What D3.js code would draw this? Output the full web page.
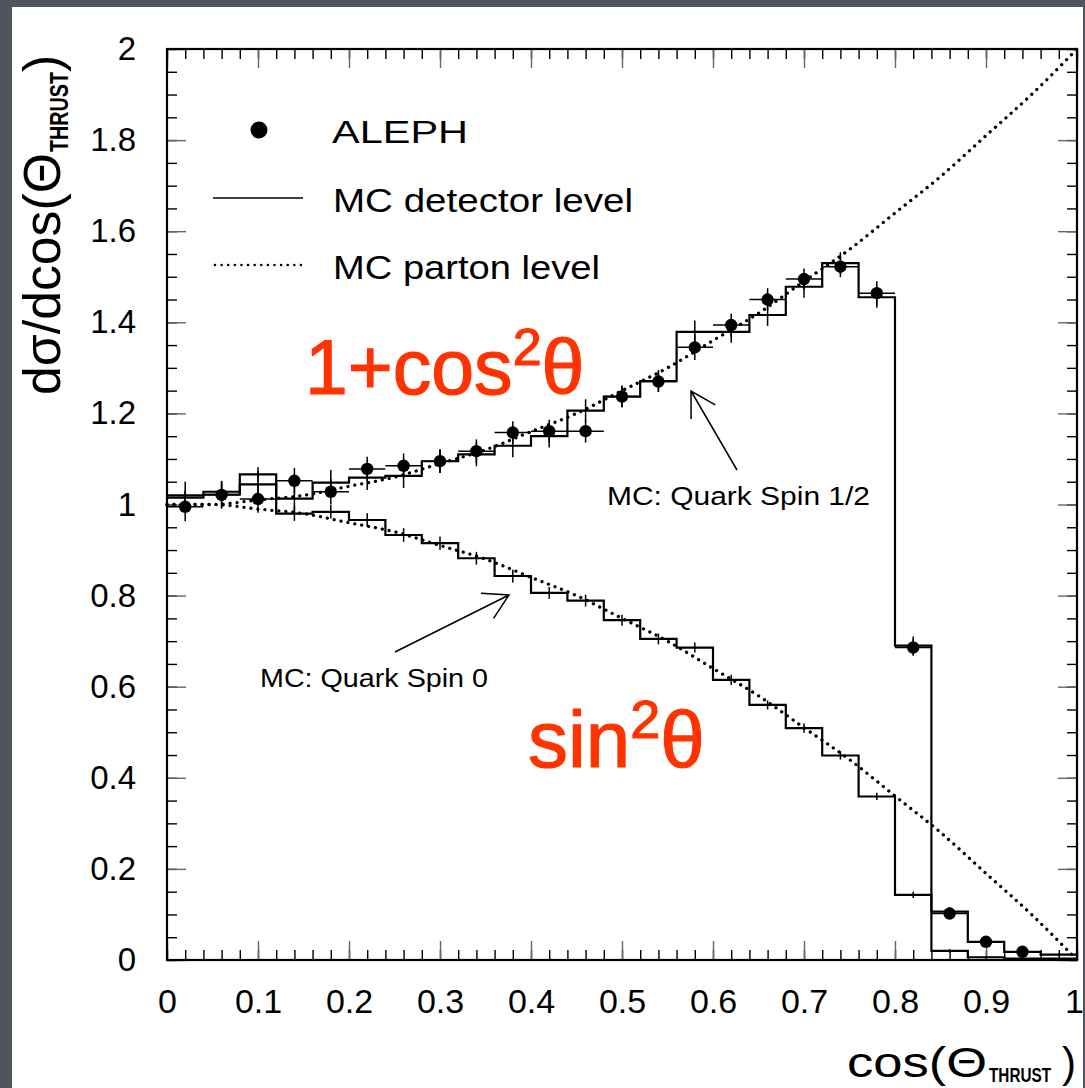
<!DOCTYPE html>
<html>
<head>
<meta charset="utf-8">
<script src="https://cdn.jsdelivr.net/npm/d3@7/dist/d3.min.js"></script>
<style>
    html, body { margin: 0; padding: 0; background: #50545c; }
    svg { display: block; }
</style>
</head>
<body>
<div id="chart"></div>
<script>
// cos(theta_thrust) bins, width 0.04
const binCenters = [0.02, 0.06, 0.10, 0.14, 0.18, 0.22, 0.26, 0.30, 0.34, 0.38, 0.42, 0.46, 0.50,
    0.54, 0.58, 0.62, 0.66, 0.70, 0.74, 0.78, 0.82, 0.86, 0.90, 0.94, 0.98];
const binHalfWidth = 0.02;

// ALEPH data
const alephValues = [0.995, 1.021, 1.012, 1.052, 1.028, 1.078, 1.085, 1.095, 1.117, 1.158, 1.161, 1.161,
    1.237, 1.270, 1.345, 1.394, 1.450, 1.495, 1.522, 1.464, 0.686, 0.102, 0.040, 0.018];
const alephErrors = [0.032, 0.030, 0.030, 0.028, 0.028, 0.027, 0.027, 0.026, 0.026, 0.025, 0.025, 0.025,
    0.023, 0.023, 0.028, 0.025, 0.025, 0.023, 0.023, 0.026, 0.018, 0.008, 0.006, 0.004];

// MC detector level, quark spin 1/2
const mcSpinHalf = [1.020, 1.022, 1.044, 1.013, 1.048, 1.059, 1.063, 1.095, 1.110, 1.129, 1.150, 1.206,
    1.237, 1.271, 1.379, 1.379, 1.416, 1.478, 1.530, 1.455, 0.690, 0.106, 0.040, 0.018, 0.012];
const mcSpinHalfErr = [0.030, 0.030, 0.030, 0.028, 0.028, 0.027, 0.027, 0.026, 0.026, 0.025, 0.025, 0.025,
    0.024, 0.024, 0.025, 0.024, 0.024, 0.024, 0.024, 0.023, 0.020, 0.010, 0.006, 0.004, 0.003];

// MC detector level, quark spin 0
const mcSpinZero = [1.015, 1.028, 1.066, 0.980, 0.984, 0.966, 0.933, 0.915, 0.882, 0.843, 0.806, 0.789,
    0.746, 0.705, 0.686, 0.615, 0.560, 0.509, 0.449, 0.359, 0.143, 0.020, 0.006, 0.003, 0.003];
const mcSpinZeroErr = [0.016, 0.016, 0.016, 0.016, 0.015, 0.015, 0.015, 0.015, 0.014, 0.014, 0.013, 0.013,
    0.012, 0.012, 0.011, 0.011, 0.010, 0.010, 0.009, 0.008, 0.007, 0.004, 0.003, 0.002, 0.002];

// MC parton level (dotted)
const partonX = [0, 0.05, 0.10, 0.15, 0.20, 0.25, 0.30, 0.35, 0.40, 0.45, 0.50,
    0.55, 0.60, 0.65, 0.70, 0.75, 0.80, 0.85, 0.90, 0.95, 1.00];
const partonSpinHalf = [1.00, 1.00, 1.01, 1.02, 1.04, 1.06, 1.09, 1.12, 1.16, 1.20, 1.25,
    1.30, 1.36, 1.42, 1.49, 1.56, 1.64, 1.72, 1.81, 1.90, 2.00];
const partonSpinZero = [1.00, 1.00, 0.99, 0.98, 0.96, 0.94, 0.91, 0.88, 0.84, 0.80, 0.75,
    0.70, 0.64, 0.58, 0.51, 0.44, 0.36, 0.28, 0.19, 0.10, 0.00];

// ticks
const xMajorTicks = [0, 0.1, 0.2, 0.3, 0.4, 0.5, 0.6, 0.7, 0.8, 0.9, 1];
const yMajorTicks = [0, 0.2, 0.4, 0.6, 0.8, 1, 1.2, 1.4, 1.6, 1.8, 2];
const xMinorTicks = d3.range(0, 1.0001, 0.02);
const yMinorTicks = d3.range(0, 2.0001, 0.05);

const margin = {top: 49, right: 8, bottom: 128, left: 167};
const size = {width: 1085, height: 1088};
const width = size.width - margin.left - margin.right;
const height = size.height - margin.top - margin.bottom;
const labelFont = "'Liberation Sans', Arial, sans-serif";
const red = "#ff3300";

const svg = d3.select("#chart").append("svg")
    .attr("width", size.width)
    .attr("height", size.height);

// white slide panel
svg.append("rect")
    .attr("x", 12).attr("y", 7)
    .attr("width", 1071).attr("height", 1081)
    .attr("fill", "#ffffff");

const g = svg.append("g")
    .attr("transform", "translate(" + margin.left + "," + margin.top + ")");

const x = d3.scaleLinear().domain([0, 1]).range([0, width]);
const y = d3.scaleLinear().domain([0, 2]).range([height, 0]);

// inward ticks on all four sides
function addTicks(axis, transform, color){
    g.append("g")
        .attr("transform", transform)
        .call(axis.tickFormat(""))
        .call(a => a.select(".domain").remove())
        .selectAll("line")
        .attr("stroke", color)
        .attr("stroke-width", 1.4);
}
addTicks(d3.axisBottom(x).tickValues(xMinorTicks).tickSize(-10), "translate(0," + height + ")", "#000");
addTicks(d3.axisTop(x).tickValues(xMinorTicks).tickSize(-10), "translate(0,0)", "#000");
addTicks(d3.axisLeft(y).tickValues(yMinorTicks).tickSize(-10), "translate(0,0)", "#000");
addTicks(d3.axisRight(y).tickValues(yMinorTicks).tickSize(-10), "translate(" + width + ",0)", "#000");
addTicks(d3.axisTop(x).tickValues(xMajorTicks).tickSize(-19), "translate(0,0)", "#666");
addTicks(d3.axisRight(y).tickValues(yMajorTicks).tickSize(-19), "translate(" + width + ",0)", "#666");

// labelled axes
const xAxisG = g.append("g")
    .attr("transform", "translate(0," + height + ")")
    .call(d3.axisBottom(x).tickValues(xMajorTicks).tickSize(-19).tickPadding(29).tickFormat(d3.format("~g")));
const yAxisG = g.append("g")
    .call(d3.axisLeft(y).tickValues(yMajorTicks).tickSize(-19).tickPadding(31).tickFormat(d3.format("~g")));
[xAxisG, yAxisG].forEach(a => {
    a.select(".domain").remove();
    a.selectAll("line").attr("stroke", "#666").attr("stroke-width", 1.4);
    a.selectAll("text").attr("font-family", labelFont).attr("fill", "#000");
});
xAxisG.selectAll("text").attr("font-size", 34);
// last label sits right on the panel edge
xAxisG.selectAll("text").filter(d => d === 1).attr("dx", -3);
yAxisG.selectAll("text").attr("font-size", 33);

// histograms (MC detector level)
const stepLine = d3.line()
    .x(d => x(d[0]))
    .y(d => y(d[1]))
    .curve(d3.curveStepAfter);

function histPoints(values){
    const pts = values.map((v, i) => [binCenters[i] - binHalfWidth, v]);
    pts.push([binCenters[values.length - 1] + binHalfWidth, values[values.length - 1]]);
    return pts;
}

[mcSpinHalf, mcSpinZero].forEach(vals => {
    g.append("path")
        .datum(histPoints(vals))
        .attr("d", stepLine)
        .attr("fill", "none")
        .attr("stroke", "#000")
        .attr("stroke-width", 2.2);
});

// MC error ticks at bin centres
[[mcSpinHalf, mcSpinHalfErr], [mcSpinZero, mcSpinZeroErr]].forEach(([vals, errs]) => {
    g.append("g").selectAll("line")
        .data(vals)
        .join("line")
        .attr("x1", (d, i) => x(binCenters[i]))
        .attr("x2", (d, i) => x(binCenters[i]))
        .attr("y1", (d, i) => y(d + errs[i]))
        .attr("y2", (d, i) => y(d - errs[i]))
        .attr("stroke", "#000")
        .attr("stroke-width", 1.5);
});

// parton level dotted curves
const smoothLine = d3.line()
    .x((d, i) => x(partonX[i]))
    .y(d => y(d))
    .curve(d3.curveMonotoneX);

[partonSpinHalf, partonSpinZero].forEach(vals => {
    g.append("path")
        .datum(vals)
        .attr("d", smoothLine)
        .attr("fill", "none")
        .attr("stroke", "#000")
        .attr("stroke-width", 3.3)
        .attr("stroke-linecap", "round")
        .attr("stroke-dasharray", "0.01 7");
});

// ALEPH data points
const dataG = g.append("g").attr("class", "alephG");
const itemG = dataG.selectAll(".itemG")
    .data(alephValues)
    .join("g")
    .attr("class", "itemG");
itemG.append("line")
    .attr("x1", (d, i) => x(binCenters[i] - binHalfWidth))
    .attr("x2", (d, i) => x(binCenters[i] + binHalfWidth))
    .attr("y1", d => y(d))
    .attr("y2", d => y(d))
    .attr("stroke", "#000")
    .attr("stroke-width", 1.5);
itemG.append("line")
    .attr("x1", (d, i) => x(binCenters[i]))
    .attr("x2", (d, i) => x(binCenters[i]))
    .attr("y1", (d, i) => y(d + alephErrors[i]))
    .attr("y2", (d, i) => y(d - alephErrors[i]))
    .attr("stroke", "#000")
    .attr("stroke-width", 1.5);
itemG.append("circle")
    .attr("cx", (d, i) => x(binCenters[i]))
    .attr("cy", d => y(d))
    .attr("r", 6.2)
    .attr("fill", "#000");

// frame
g.append("rect")
    .attr("width", width)
    .attr("height", height)
    .attr("fill", "none")
    .attr("stroke", "#000")
    .attr("stroke-width", 2.2);

// legend
svg.append("circle").attr("cx", 259).attr("cy", 130).attr("r", 8.5).attr("fill", "#000");
svg.append("line").attr("x1", 213).attr("x2", 303).attr("y1", 198).attr("y2", 198)
    .attr("stroke", "#000").attr("stroke-width", 1.6);
svg.append("line").attr("x1", 215).attr("x2", 302).attr("y1", 265).attr("y2", 265)
    .attr("stroke", "#000").attr("stroke-width", 2.6)
    .attr("stroke-linecap", "round").attr("stroke-dasharray", "0.01 6.6");

function addText(parent, txt, px, py, fs, len, opts){
    const t = parent.append("text")
        .attr("x", px).attr("y", py)
        .attr("font-family", (opts && opts.family) || labelFont)
        .attr("font-size", fs)
        .attr("fill", (opts && opts.fill) || "#000")
        .text(txt);
    if (opts && opts.bold) t.attr("font-weight", "bold");
    if (len) t.attr("textLength", len).attr("lengthAdjust", "spacingAndGlyphs");
    return t;
}
addText(svg, "ALEPH", 332, 143, 32, 136);
addText(svg, "MC detector level", 333, 212, 33, 300);
addText(svg, "MC parton level", 333, 279, 33, 267);

// annotations
addText(svg, "MC: Quark Spin 1/2", 607, 505, 25, 263);
addText(svg, "MC: Quark Spin 0", 260, 687, 25, 228);

function arrow(x0, y0, x1, y1){
    const ang = Math.atan2(y0 - y1, x0 - x1);
    const len = 28, spread = Math.PI / 6;
    const path = d3.path();
    path.moveTo(x0, y0); path.lineTo(x1, y1);
    path.moveTo(x1 + len * Math.cos(ang - spread), y1 + len * Math.sin(ang - spread));
    path.lineTo(x1, y1);
    path.lineTo(x1 + len * Math.cos(ang + spread), y1 + len * Math.sin(ang + spread));
    svg.append("path").attr("d", path.toString())
        .attr("fill", "none").attr("stroke", "#000").attr("stroke-width", 1.5);
}
arrow(737, 470, 691, 391);
arrow(395, 652, 509, 595);

// red formula labels
const f1 = svg.append("text").attr("x", 305).attr("y", 394)
    .attr("font-family", labelFont).attr("font-size", 77).attr("fill", red)
    .attr("stroke", red).attr("stroke-width", 1.2).attr("stroke-linejoin", "round");
f1.append("tspan").text("1+cos");
f1.append("tspan").attr("dy", -29).attr("font-size", 52).text("2");
f1.append("tspan").attr("dy", 29).text("θ");

const f2 = svg.append("text").attr("x", 528).attr("y", 767)
    .attr("font-family", labelFont).attr("font-size", 80).attr("fill", red)
    .attr("stroke", red).attr("stroke-width", 1.2).attr("stroke-linejoin", "round");
f2.append("tspan").text("sin");
f2.append("tspan").attr("dy", -29).attr("font-size", 54).text("2");
f2.append("tspan").attr("dy", 29).text("θ");

// x axis title
addText(svg, "cos(Θ", 847, 1077, 42, 140);
addText(svg, "THRUST", 989, 1082, 21, 62, {bold: true});
addText(svg, ")", 1062, 1077, 42, null);

// y axis title (rotated)
const yTitle = svg.append("g").attr("transform", "translate(60,395) rotate(-90)");
addText(yTitle, "dσ/dcos(Θ", 0, 0, 52, 242);
addText(yTitle, "THRUST", 243, 8, 25, 80, {bold: true});
addText(yTitle, ")", 323, 0, 52, null);
</script>
</body>
</html>
